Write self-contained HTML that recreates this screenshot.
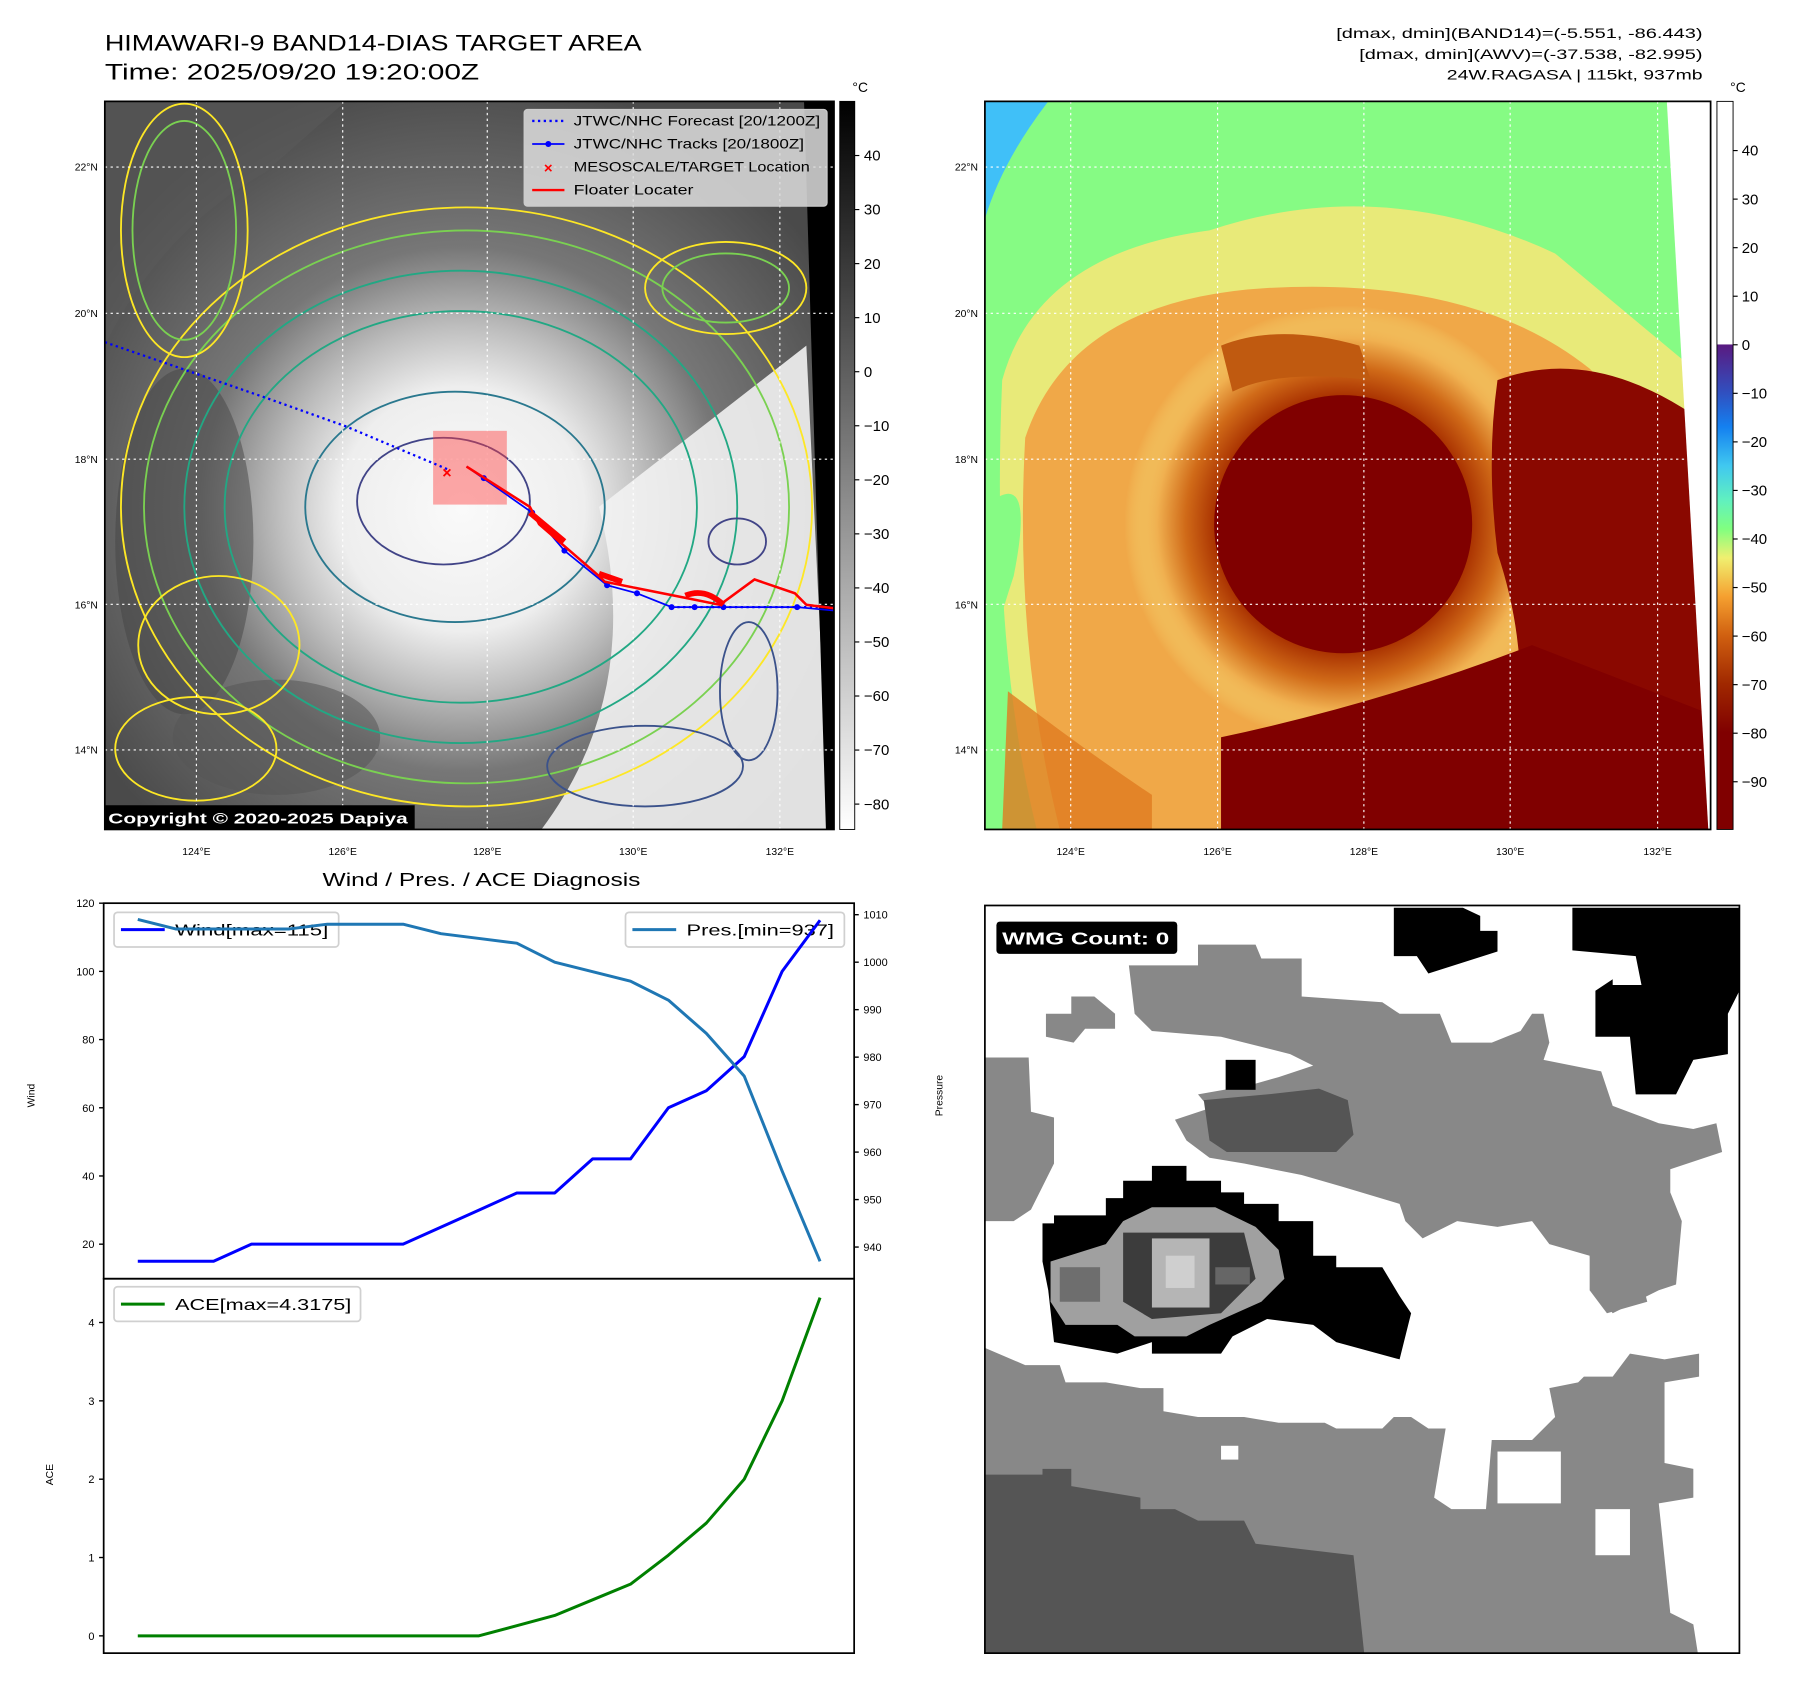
<!DOCTYPE html>
<html><head><meta charset="utf-8"><style>
html,body{margin:0;padding:0;background:#fff}
svg{display:block}
text{font-family:"Liberation Sans","DejaVu Sans",sans-serif}
</style></head><body>
<svg id="root" width="1797" height="1690" viewBox="0 0 1560 1467" preserveAspectRatio="none" xmlns="http://www.w3.org/2000/svg">
<defs>
  <linearGradient id="cb1" x1="0" y1="0" x2="0" y2="1"><stop offset="0" stop-color="#000"/><stop offset="1" stop-color="#fff"/></linearGradient>
  <linearGradient id="cb2b" x1="0" y1="0" x2="0" y2="1">
    <stop offset="0" stop-color="#5a1a80"/><stop offset="0.1" stop-color="#3050c0"/><stop offset="0.17" stop-color="#1480f0"/>
    <stop offset="0.25" stop-color="#40c8f0"/><stop offset="0.32" stop-color="#60f0c0"/><stop offset="0.38" stop-color="#80ff80"/>
    <stop offset="0.44" stop-color="#f0f070"/><stop offset="0.52" stop-color="#f5a030"/><stop offset="0.6" stop-color="#d06010"/>
    <stop offset="0.7" stop-color="#a02800"/><stop offset="0.8" stop-color="#800000"/><stop offset="1" stop-color="#800000"/></linearGradient>
  <radialGradient id="sat" cx="0.49" cy="0.56" r="0.6">
    <stop offset="0" stop-color="#fafafa"/><stop offset="0.28" stop-color="#eeeeee"/><stop offset="0.42" stop-color="#bdbdbd"/>
    <stop offset="0.6" stop-color="#777"/><stop offset="1" stop-color="#4a4a4a"/></radialGradient>
  <radialGradient id="eye2" cx="0.5" cy="0.5" r="0.5">
    <stop offset="0" stop-color="#800000"/><stop offset="0.45" stop-color="#800000"/><stop offset="0.58" stop-color="#a83000"/>
    <stop offset="0.72" stop-color="#d06a18"/><stop offset="0.85" stop-color="#f0b050"/><stop offset="1" stop-color="#f5e880" stop-opacity="0"/></radialGradient>
  <clipPath id="m1clip"><rect x="91" y="88" width="633" height="632"/></clipPath>
  <clipPath id="m2clip"><rect x="855" y="88" width="630" height="632"/></clipPath>
  <clipPath id="brclip"><rect x="855" y="786" width="655" height="649"/></clipPath>
</defs>

<!-- ===== Titles ===== -->
<text x="91" y="44" font-size="19" textLength="466" lengthAdjust="spacingAndGlyphs">HIMAWARI-9 BAND14-DIAS TARGET AREA</text>
<text x="91" y="69" font-size="19" textLength="325" lengthAdjust="spacingAndGlyphs">Time: 2025/09/20 19:20:00Z</text>
<g font-size="12" text-anchor="end">
  <text x="1478" y="33" textLength="318" lengthAdjust="spacingAndGlyphs">[dmax, dmin](BAND14)=(-5.551, -86.443)</text>
  <text x="1478" y="51" textLength="298" lengthAdjust="spacingAndGlyphs">[dmax, dmin](AWV)=(-37.538, -82.995)</text>
  <text x="1478" y="69" textLength="222" lengthAdjust="spacingAndGlyphs">24W.RAGASA | 115kt, 937mb</text>
</g>

<!-- ===== Map 1 (grayscale IR) ===== -->
<g clip-path="url(#m1clip)">
  <rect x="91" y="88" width="633" height="632" fill="url(#sat)"/>
  <path d="M91,88 L91,300 Q140,200 230,150 L300,88 Z" fill="#5a5a5a" opacity="0.6"/>
  <ellipse cx="160" cy="470" rx="60" ry="150" fill="#444" opacity="0.5"/>
  <ellipse cx="240" cy="640" rx="90" ry="50" fill="#555" opacity="0.55"/>
  <path d="M520,440 L700,300 L720,720 L470,720 Q560,600 520,440Z" fill="#f2f2f2" opacity="0.9"/>
  <polygon points="698,88 724,88 724,720 717,720" fill="#000"/>
  <g fill="none" stroke-width="1.6">
    <ellipse cx="405" cy="440" rx="300" ry="260" stroke="#fde725"/>
    <ellipse cx="405" cy="440" rx="280" ry="240" stroke="#7ad151"/>
    <ellipse cx="400" cy="440" rx="240" ry="205" stroke="#22a884"/>
    <ellipse cx="400" cy="440" rx="205" ry="170" stroke="#22a884"/>
    <ellipse cx="395" cy="440" rx="130" ry="100" stroke="#2a788e"/>
    <ellipse cx="385" cy="435" rx="75" ry="55" stroke="#414487"/>
    <ellipse cx="560" cy="665" rx="85" ry="35" stroke="#3b528b"/>
    <ellipse cx="650" cy="600" rx="25" ry="60" stroke="#3b528b"/>
    <ellipse cx="640" cy="470" rx="25" ry="20" stroke="#414487"/>
    <ellipse cx="190" cy="560" rx="70" ry="60" stroke="#fde725"/>
    <ellipse cx="160" cy="200" rx="55" ry="110" stroke="#fde725"/>
    <ellipse cx="160" cy="200" rx="45" ry="95" stroke="#7ad151"/>
    <ellipse cx="170" cy="650" rx="70" ry="45" stroke="#fde725"/>
    <ellipse cx="630" cy="250" rx="70" ry="40" stroke="#fde725"/>
    <ellipse cx="630" cy="250" rx="55" ry="30" stroke="#7ad151"/>
  </g>
  <g stroke="#fff" stroke-width="1" stroke-dasharray="2,3">
    <line x1="170.5" y1="88" x2="170.5" y2="720"/><line x1="297.5" y1="88" x2="297.5" y2="720"/><line x1="423" y1="88" x2="423" y2="720"/><line x1="549.7" y1="88" x2="549.7" y2="720"/><line x1="677" y1="88" x2="677" y2="720"/>
    <line x1="91" y1="145" x2="724" y2="145"/><line x1="91" y1="272" x2="724" y2="272"/><line x1="91" y1="398.6" x2="724" y2="398.6"/><line x1="91" y1="524.6" x2="724" y2="524.6"/><line x1="91" y1="651" x2="724" y2="651"/>
  </g>
  <rect x="376" y="374" width="64" height="64" fill="#ff4040" opacity="0.45"/>
  <polyline points="91,297 230,345 300,370 390,408" fill="none" stroke="#0000ff" stroke-width="2" stroke-dasharray="2,3"/>
  <polyline points="583,527 724,527" fill="none" stroke="#0000ff" stroke-width="2" stroke-dasharray="2,3"/>
  <polyline points="405,405 462,445 490,478 527,508 553,515 583,527 603,527 628,527 692,527 724,530" fill="none" stroke="#0000ff" stroke-width="1.5"/>
  <g fill="#0000ff"><circle cx="420" cy="415" r="2.6"/><circle cx="462" cy="445" r="2.6"/><circle cx="490" cy="478" r="2.6"/><circle cx="527" cy="508" r="2.6"/><circle cx="553" cy="515" r="2.6"/><circle cx="583" cy="527" r="2.6"/><circle cx="603" cy="527" r="2.6"/><circle cx="628" cy="527" r="2.6"/><circle cx="692" cy="527" r="2.6"/></g>
  <polyline points="405,405 460,440 468,455 520,500 525,505 600,520 625,525 655,503 690,515 700,525 724,528" fill="none" stroke="#ff0000" stroke-width="2.2"/>
  <path d="M460,445 L490,470 M520,498 L540,505 M595,517 Q612,510 628,525" stroke="#ff0000" stroke-width="5" fill="none"/>
  <text x="388" y="415" font-size="14" fill="#ff0000" text-anchor="middle" font-weight="bold">×</text>
  <rect x="90" y="699" width="270" height="21" fill="#000"/>
  <text x="94" y="715" font-size="13" font-weight="bold" fill="#fff" textLength="260" lengthAdjust="spacingAndGlyphs">Copyright © 2020-2025 Dapiya</text>
</g>
<rect x="91" y="88" width="633" height="632" fill="none" stroke="#000" stroke-width="1.5"/>
<g>
  <rect x="455" y="95" width="263" height="84" rx="3" fill="#ddd" fill-opacity="0.85" stroke="#ccc"/>
  <line x1="462" y1="105" x2="490" y2="105" stroke="#0000ff" stroke-width="2" stroke-dasharray="2,3"/>
  <line x1="462" y1="125" x2="490" y2="125" stroke="#0000ff" stroke-width="1.5"/><circle cx="476" cy="125" r="2.6" fill="#0000ff"/>
  <text x="476" y="150" font-size="13" fill="#ff0000" text-anchor="middle" font-weight="bold">×</text>
  <line x1="462" y1="165" x2="490" y2="165" stroke="#ff0000" stroke-width="2"/>
  <g font-size="12"><text x="498" y="109" textLength="214" lengthAdjust="spacingAndGlyphs">JTWC/NHC Forecast [20/1200Z]</text><text x="498" y="129" textLength="200" lengthAdjust="spacingAndGlyphs">JTWC/NHC Tracks [20/1800Z]</text><text x="498" y="149" textLength="205" lengthAdjust="spacingAndGlyphs">MESOSCALE/TARGET Location</text><text x="498" y="169" textLength="104" lengthAdjust="spacingAndGlyphs">Floater Locater</text></g>
</g>
<g font-size="9" text-anchor="end"><text x="85" y="148">22°N</text><text x="85" y="275">20°N</text><text x="85" y="402">18°N</text><text x="85" y="528">16°N</text><text x="85" y="654">14°N</text></g>
<g font-size="9" text-anchor="middle"><text x="170.5" y="742">124°E</text><text x="297.5" y="742">126°E</text><text x="423" y="742">128°E</text><text x="549.7" y="742">130°E</text><text x="677" y="742">132°E</text></g>
<g>
  <text x="740" y="80" font-size="12">°C</text>
  <rect x="729" y="88" width="13" height="632" fill="url(#cb1)" stroke="#000" stroke-width="0.8"/>
  <g id="cb1ticks" font-size="13"></g>
</g>

<!-- ===== Map 2 (colour enhanced) ===== -->
<g clip-path="url(#m2clip)">
  <rect x="855" y="88" width="630" height="632" fill="#86fb84"/>
  <path d="M855,88 L910,88 Q870,140 855,190Z" fill="#40c0f8"/>
  <path d="M870,330 Q900,220 1050,200 Q1200,150 1350,220 L1470,320 L1485,720 L900,720 Q860,560 870,330Z" fill="#f3e878" opacity="0.9"/>
  <path d="M890,380 Q930,260 1100,250 Q1280,240 1380,320 L1478,420 L1485,720 L920,720 Q880,560 890,380Z" fill="#f0a848"/>
  <circle cx="1166" cy="455" r="190" fill="url(#eye2)"/>
  <path d="M1060,300 Q1110,280 1180,300 L1190,330 Q1110,320 1070,340Z" fill="#c05a10"/>
  <path d="M1300,330 Q1380,300 1470,360 L1485,720 L1300,720 Q1340,600 1300,480 Q1290,400 1300,330Z" fill="#8a0800"/>
  <path d="M1060,640 Q1200,610 1330,560 L1485,620 L1485,720 L1060,720Z" fill="#800000"/>
  <circle cx="1166" cy="455" r="112" fill="#800000"/>
  <path d="M855,440 Q900,400 880,500 Q860,560 855,600Z" fill="#86fb84"/>
  <path d="M875,600 Q940,650 1000,690 L1000,720 L870,720Z" fill="#e07a20" opacity="0.8"/>
  <polygon points="1447,88 1485,88 1485,720 1483,720" fill="#fff"/>
  <g stroke="#fff" stroke-width="1" stroke-dasharray="2,3">
    <line x1="929.5" y1="88" x2="929.5" y2="720"/><line x1="1057" y1="88" x2="1057" y2="720"/><line x1="1184" y1="88" x2="1184" y2="720"/><line x1="1311" y1="88" x2="1311" y2="720"/><line x1="1439" y1="88" x2="1439" y2="720"/>
    <line x1="855" y1="145" x2="1485" y2="145"/><line x1="855" y1="272" x2="1485" y2="272"/><line x1="855" y1="398.6" x2="1485" y2="398.6"/><line x1="855" y1="524.6" x2="1485" y2="524.6"/><line x1="855" y1="651" x2="1485" y2="651"/>
  </g>
</g>
<rect x="855" y="88" width="630" height="632" fill="none" stroke="#000" stroke-width="1.5"/>
<g font-size="9" text-anchor="end"><text x="849" y="148">22°N</text><text x="849" y="275">20°N</text><text x="849" y="402">18°N</text><text x="849" y="528">16°N</text><text x="849" y="654">14°N</text></g>
<g font-size="9" text-anchor="middle"><text x="929.5" y="742">124°E</text><text x="1057" y="742">126°E</text><text x="1184" y="742">128°E</text><text x="1311" y="742">130°E</text><text x="1439" y="742">132°E</text></g>
<g>
  <text x="1502" y="80" font-size="12">°C</text>
  <rect x="1490.5" y="88" width="14" height="211" fill="#fff"/>
  <rect x="1490.5" y="299" width="14" height="421" fill="url(#cb2b)"/>
  <rect x="1490.5" y="88" width="14" height="632" fill="none" stroke="#000" stroke-width="0.8"/>
  <g id="cb2ticks" font-size="13"></g>
</g>

<!-- ===== Diagnosis chart ===== -->
<text x="418" y="769" font-size="16" text-anchor="middle" textLength="276" lengthAdjust="spacingAndGlyphs">Wind / Pres. / ACE Diagnosis</text>
<g id="chart"></g>

<!-- ===== WMG panel ===== -->
<g clip-path="url(#brclip)">
  <rect x="855" y="786" width="655" height="649" fill="#fff"/>
  <g fill="#888">
    <polygon points="980,838 1040,838 1040,820 1090,820 1095,832 1130,832 1130,865 1200,870 1215,880 1250,880 1260,905 1295,905 1320,895 1330,880 1340,880 1345,905 1340,920 1390,930 1400,960 1440,975 1470,980 1490,975 1495,1000 1450,1015 1450,1035 1460,1060 1455,1115 1440,1120 1400,1140 1385,1120 1380,1090 1345,1080 1330,1060 1300,1065 1265,1060 1235,1075 1220,1060 1215,1045 1165,1030 1130,1020 1080,1010 1050,1005 1030,990 1020,972 1050,962 1040,950 1085,942 1110,935 1140,925 1120,915 1060,900 1000,895 985,880"/>
    <polygon points="930,865 950,865 968,880 968,893 942,893 932,905 908,900 908,880 930,880"/>
    <polygon points="855,918 893,918 895,965 915,970 915,1010 905,1030 895,1050 880,1060 855,1060"/>
    <polygon points="855,1170 890,1185 920,1185 925,1200 960,1200 990,1205 1010,1205 1010,1225 1040,1230 1080,1230 1110,1235 1150,1235 1160,1240 1200,1240 1210,1230 1225,1230 1240,1240 1255,1240 1245,1300 1260,1310 1290,1310 1295,1250 1330,1250 1350,1230 1345,1205 1370,1200 1375,1195 1400,1195 1415,1175 1445,1180 1475,1175 1475,1195 1445,1200 1445,1270 1470,1275 1470,1300 1440,1305 1450,1400 1470,1410 1475,1442 855,1442"/>
    <polygon points="1380,1090 1420,1090 1430,1130 1395,1140 1380,1120"/>
  </g>
  <g fill="#fff"><rect x="1300" y="1260" width="55" height="45"/><rect x="1385" y="1310" width="30" height="40"/><rect x="1060" y="1255" width="15" height="12"/></g>
  <polygon points="855,1280 905,1280 905,1275 930,1275 930,1290 990,1300 990,1310 1020,1310 1040,1320 1080,1320 1090,1340 1175,1350 1180,1395 1185,1442 855,1442" fill="#555"/>
  <polygon points="1045,955 1100,950 1145,945 1170,955 1175,985 1160,1000 1105,1000 1065,1000 1050,990" fill="#555"/>
  <g fill="#000">
    <polygon points="1365,788 1510,788 1510,860 1500,880 1500,915 1470,920 1455,950 1420,950 1415,900 1385,900 1385,860 1400,850 1400,855 1425,855 1420,830 1365,825"/>
    <polygon points="1210,788 1270,788 1285,795 1285,808 1300,808 1300,826 1240,845 1230,830 1210,830"/>
    <rect x="1064" y="920" width="26" height="26"/>
    <polygon points="905,1062 915,1062 915,1055 960,1055 960,1040 975,1040 975,1025 1000,1025 1000,1012 1030,1012 1030,1025 1060,1025 1060,1035 1080,1035 1080,1045 1110,1045 1110,1060 1140,1060 1140,1090 1160,1090 1160,1100 1200,1100 1215,1125 1225,1140 1215,1180 1160,1165 1140,1150 1100,1145 1070,1160 1060,1175 1000,1175 1000,1165 970,1175 915,1165 910,1120 905,1095"/>
  </g>
  <polygon points="912,1095 960,1080 975,1060 1000,1048 1055,1048 1090,1065 1110,1085 1115,1110 1095,1130 1050,1150 1030,1160 985,1160 970,1150 925,1150 912,1130" fill="#a0a0a0"/>
  <rect x="920" y="1100" width="35" height="30" fill="#6e6e6e"/>
  <polygon points="975,1070 1080,1070 1090,1110 1060,1140 1000,1145 975,1130" fill="#3c3c3c"/>
  <rect x="1000" y="1075" width="50" height="60" fill="#b5b5b5"/>
  <rect x="1012" y="1090" width="25" height="28" fill="#cfcfcf"/>
  <rect x="1055" y="1100" width="30" height="15" fill="#666"/>
  <rect x="865" y="800" width="157" height="28" rx="3" fill="#000"/>
  <text x="870" y="820" font-size="15" font-weight="bold" fill="#fff" textLength="145" lengthAdjust="spacingAndGlyphs">WMG Count: 0</text>
</g>
<rect x="855" y="786" width="655" height="649" fill="none" stroke="#000" stroke-width="1.5"/>
</svg>

<script>
// ---- chart data ----
const steps = [0,1,2,3,4,5,6,7,8,9,10,11,12,13,14,15,16,17,18];
const windValues = [15,15,15,20,20,20,20,20,25,30,35,35,45,45,60,65,75,100,115];
const presValues = [1009,1007,1007,1007,1007,1008,1008,1008,1006,1005,1004,1000,998,996,992,985,976,956,937];
const aceValues = [0,0,0,0,0,0,0,0,0,0,0.13,0.26,0.46,0.66,1.03,1.44,2.0,3.0,4.3175];
const windTicks = [20,40,60,80,100,120];
const presTicks = [940,950,960,970,980,990,1000,1010];
const aceTicks = [0,1,2,3,4];
const cb1Ticks = [40,30,20,10,0,-10,-20,-30,-40,-50,-60,-70,-80];
const cb2Ticks = [40,30,20,10,0,-10,-20,-30,-40,-50,-60,-70,-80,-90];

const NS = 'http://www.w3.org/2000/svg';
function mk(tag, attrs, parent){ const e=document.createElementNS(NS,tag); for(const k in attrs) e.setAttribute(k,attrs[k]); parent.appendChild(e); return e; }

const PL=90, PR=741.5, PT=784, PMID=1110, PB=1435;
const xS = i => PL + (i - (-0.9)) / (18.9 - (-0.9)) * (PR - PL);
const windY = v => 1080 + (v - 20) * (784 - 1080) / 100;
const presY = v => 1082.5 + (v - 940) * (794 - 1082.5) / 70;
const aceY = v => 1420 + v * (1352 - 1420);

const chartG = document.getElementById('chart');
const topAx = mk('rect',{x:PL,y:PT,width:PR-PL,height:PMID-PT,fill:'none',stroke:'#000','stroke-width':1.5},chartG);


const botAx = mk('rect',{x:PL,y:PMID,width:PR-PL,height:PB-PMID,fill:'none',stroke:'#000','stroke-width':1.5},chartG);



function tickLeft(v,y){
  mk('line',{x1:PL-4,y1:y,x2:PL,y2:y,stroke:'#000','stroke-width':1.2},chartG);
  const t = mk('text',{x:PL-8,y:y+3.5,'font-size':9.5,'text-anchor':'end'},chartG); t.textContent=v;
  
  
}
windTicks.forEach(v=>tickLeft(v,windY(v)));
aceTicks.forEach(v=>tickLeft(v,aceY(v)));
presTicks.forEach(v=>{
  const y=presY(v);
  mk('line',{x1:PR,y1:y,x2:PR+4,y2:y,stroke:'#000','stroke-width':1.2},chartG);
  const t=mk('text',{x:PR+8,y:y+3.5,'font-size':9.5},chartG); t.textContent=v;
  
  
});
let yl = mk('text',{x:0,y:0,'font-size':9,'text-anchor':'middle',transform:'translate(30,951) rotate(-90)'},chartG); yl.textContent='Wind';


yl = mk('text',{x:0,y:0,'font-size':9,'text-anchor':'middle',transform:'translate(818,951) rotate(-90)'},chartG); yl.textContent='Pressure';


yl = mk('text',{x:0,y:0,'font-size':9,'text-anchor':'middle',transform:'translate(46,1280) rotate(-90)'},chartG); yl.textContent='ACE';



function drawLine(vals, yf, color, name){
  const p = mk('polyline',{points:vals.map((v,i)=>xS(steps[i])+','+yf(v)).join(' '),fill:'none',stroke:color,'stroke-width':2.6,'stroke-linejoin':'round'},chartG);
  
  
}

function legend(x,y,w,color,label,name,tl){
  const g = mk('g',{},chartG);
  
  
  mk('rect',{x:x,y:y,width:w,height:30,rx:3,fill:'#fff','fill-opacity':0.8,stroke:'#d0d0d0','stroke-width':1.5},g);
  mk('line',{x1:x+6,y1:y+15,x2:x+44,y2:y+15,stroke:color,'stroke-width':2.6},g);
  const t=mk('text',{x:x+53,y:y+20,'font-size':14,textLength:tl,lengthAdjust:'spacingAndGlyphs'},g); t.textContent=label;
}
legend(99,792,195,'#0000ff','Wind[max=115]','wind-legend',133);
legend(543,792,190,'#1f77b4','Pres.[min=937]','pressure-legend',128);
legend(99,1117,214,'#008000','ACE[max=4.3175]','ace-legend',153);
drawLine(windValues, windY, '#0000ff', 'wind-line');
drawLine(presValues, presY, '#1f77b4', 'pressure-line');
drawLine(aceValues, aceY, '#008000', 'ace-line');

const c1 = document.getElementById('cb1ticks');
cb1Ticks.forEach(v=>{
  const y = 135 + (40 - v) * (698 - 135) / 120;
  mk('line',{x1:742,y1:y,x2:746,y2:y,stroke:'#000'},c1);
  const t=mk('text',{x:750,y:y+4.5},c1); t.textContent = v<0 ? '\u2212'+(-v) : v;
  
  
});
const c2 = document.getElementById('cb2ticks');
cb2Ticks.forEach(v=>{
  const y = 130.7 + (40 - v) * (678.6 - 130.7) / 130;
  mk('line',{x1:1504.5,y1:y,x2:1508.5,y2:y,stroke:'#000'},c2);
  const t=mk('text',{x:1512,y:y+4.5},c2); t.textContent = v<0 ? '\u2212'+(-v) : v;
  
  
});
</script>
</body></html>
